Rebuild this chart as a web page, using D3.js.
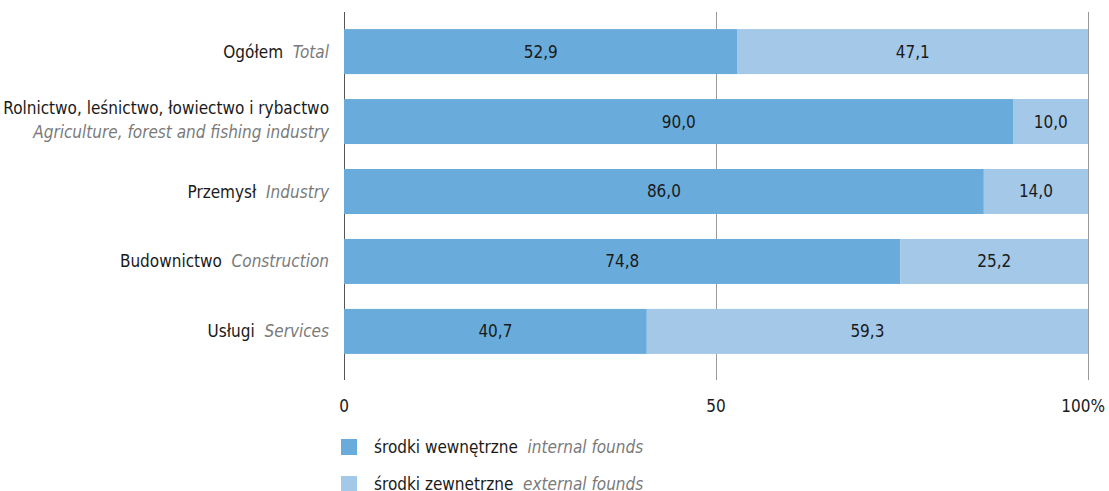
<!DOCTYPE html>
<html>
<head>
<meta charset="utf-8">
<script src="https://cdn.jsdelivr.net/npm/d3@7"></script>
<style>
  body { margin: 0; background: #fff; }
  svg text { font-family: "DejaVu Sans Condensed", "DejaVu Sans", sans-serif; font-stretch: condensed; }
</style>
</head>
<body>
<script>
// categories: Polish label, English label
const categoriesPl = ['Ogółem', 'Rolnictwo, leśnictwo, łowiectwo i rybactwo', 'Przemysł', 'Budownictwo', 'Usługi'];
const categoriesEn = ['Total', 'Agriculture, forest and fishing industry', 'Industry', 'Construction', 'Services'];
const internalFunds = [52.9, 90.0, 86.0, 74.8, 40.7];
const externalFunds = [47.1, 10.0, 14.0, 25.2, 59.3];
const tickValues = [0, 50, 100];
const legendPl = ['środki wewnętrzne', 'środki zewnetrzne'];
const legendEn = ['internal founds', 'external founds'];

const width = 1109, height = 491;
const colors = ['#69acdb', '#a4c8e8'];
const fs = 17;

const svg = d3.select('body')
    .append('svg')
    .attr('width', width)
    .attr('height', height);

const x = d3.scaleLinear()
    .domain([0, 100])
    .range([344, 1088]);

const y = d3.scaleBand()
    .domain(d3.range(categoriesPl.length))
    .range([16.5, 366.5])
    .paddingInner(0.357)
    .paddingOuter(0.18);

// gridlines
svg.selectAll('.grid')
    .data(tickValues)
    .join('line')
    .attr('class', 'grid')
    .attr('x1', d => x(d) + 0.5)
    .attr('x2', d => x(d) + 0.5)
    .attr('y1', 12)
    .attr('y2', 380)
    .attr('stroke', d => d === 0 ? '#555' : '#999')
    .attr('stroke-width', 1);

const rows = categoriesPl.map((c, i) => ({
    i: i,
    parts: [internalFunds[i], externalFunds[i]]
}));

const rowG = svg.selectAll('.row')
    .data(rows)
    .join('g')
    .attr('class', 'row')
    .attr('transform', d => `translate(0,${y(d.i)})`);

rowG.each(function (d) {
    let start = 0;
    const segs = d.parts.map((v, k) => {
        const s = { v: v, x0: start, x1: start + v, k: k };
        start += v;
        return s;
    });
    const g = d3.select(this);
    g.selectAll('rect')
        .data(segs)
        .join('rect')
        .attr('x', s => x(s.x0))
        .attr('width', s => x(s.x1) - x(s.x0))
        .attr('y', 0)
        .attr('height', y.bandwidth())
        .attr('fill', s => colors[s.k]);
    g.selectAll('text.val')
        .data(segs)
        .join('text')
        .attr('class', 'val')
        .attr('x', s => (x(s.x0) + x(s.x1)) / 2)
        .attr('y', y.bandwidth() / 2 + 6)
        .attr('text-anchor', 'middle')
        .attr('font-size', fs)
        .attr('fill', '#1a1a1a')
        .text(s => d3.format('.1f')(s.v).replace('.', ','));
});

// category labels
const labelX = 329;
categoriesPl.forEach((pl, i) => {
    const cy = y(i) + y.bandwidth() / 2;
    if (i === 1) {
        svg.append('text')
            .attr('x', labelX)
            .attr('y', cy - 8)
            .attr('text-anchor', 'end')
            .attr('font-size', fs)
            .attr('fill', '#1a1a1a')
            .text(pl);
        svg.append('text')
            .attr('x', labelX)
            .attr('y', cy + 16)
            .attr('text-anchor', 'end')
            .attr('font-size', fs)
            .attr('font-style', 'italic')
            .attr('fill', '#7a7a7a')
            .text(categoriesEn[i]);
    } else {
        const t = svg.append('text')
            .attr('x', labelX)
            .attr('y', cy + 6)
            .attr('text-anchor', 'end')
            .attr('font-size', fs);
        t.append('tspan')
            .attr('fill', '#1a1a1a')
            .text(pl + '\u00a0\u00a0');
        t.append('tspan')
            .attr('fill', '#7a7a7a')
            .attr('font-style', 'italic')
            .text(categoriesEn[i]);
    }
});

// axis tick labels
svg.selectAll('.tick-label')
    .data(tickValues)
    .join('text')
    .attr('class', 'tick-label')
    .attr('x', d => d === 100 ? 1105 : x(d))
    .attr('y', 412)
    .attr('text-anchor', d => d === 100 ? 'end' : 'middle')
    .attr('font-size', fs)
    .attr('fill', '#1a1a1a')
    .text(d => d === 100 ? '100%' : d);

// legend
const legend = svg.selectAll('.legend')
    .data(legendPl)
    .join('g')
    .attr('class', 'legend')
    .attr('transform', (d, i) => `translate(341,${439 + i * 37})`);

legend.append('rect')
    .attr('width', 16)
    .attr('height', 16)
    .attr('fill', (d, i) => colors[i]);

const lt = legend.append('text')
    .attr('x', 33)
    .attr('y', 14)
    .attr('font-size', fs);
lt.append('tspan')
    .attr('fill', '#1a1a1a')
    .text(d => d + '\u00a0\u00a0');
lt.append('tspan')
    .attr('fill', '#7a7a7a')
    .attr('font-style', 'italic')
    .text((d, i) => legendEn[i]);
</script>
</body>
</html>
